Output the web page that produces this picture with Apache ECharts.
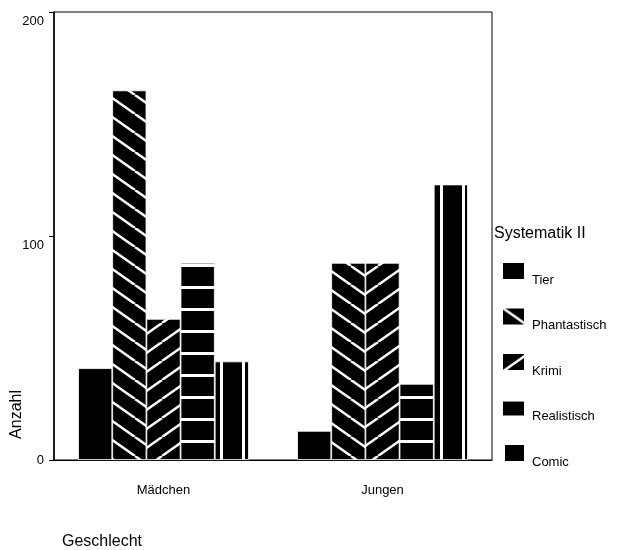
<!DOCTYPE html>
<html>
<head>
<meta charset="utf-8">
<script src="https://cdn.jsdelivr.net/npm/echarts@6/dist/echarts.min.js"></script>
<style>
  html, body { margin: 0; padding: 0; background: #fff; }
  #chart { width: 625px; height: 550px; }
</style>
</head>
<body>
<div id="chart"></div>
<script>
const categories = ["Mädchen", "Jungen"];
const seriesNames = ["Tier", "Phantastisch", "Krimi", "Realistisch", "Comic"];
const tier = [41, 13];
const phantastisch = [165, 88];
const krimi = [63, 88];
const realistisch = [88, 34];
const comic = [44, 123];
const yTicks = [0, 100, 200];

// kleine Musterkacheln wie im SPSS-Diagramm
const makeTile = (w, h, draw) => {
  const c = document.createElement("canvas");
  c.width = w;
  c.height = h;
  const ctx = c.getContext("2d");
  ctx.fillStyle = "#000";
  ctx.fillRect(0, 0, w, h);
  ctx.strokeStyle = "#fff";
  ctx.lineWidth = 2.5;
  draw(ctx, w, h);
  return { image: c, repeat: "repeat" };
};

const diag = (down) => (ctx, w, h) => {
  for (const k of [-1, 0, 1]) {
    ctx.beginPath();
    if (down) {
      ctx.moveTo(k * w, 0);
      ctx.lineTo(k * w + w, h);
    } else {
      ctx.moveTo(k * w, h);
      ctx.lineTo(k * w + w, 0);
    }
    ctx.stroke();
  }
};

const patterns = [
  "#000",
  makeTile(27, 19, diag(true)),
  makeTile(27, 19, diag(false)),
  makeTile(10, 22, (ctx, w) => {
    ctx.lineWidth = 3;
    ctx.beginPath();
    ctx.moveTo(0, 1.5);
    ctx.lineTo(w, 1.5);
    ctx.stroke();
  }),
  makeTile(22, 10, (ctx, w, h) => {
    ctx.lineWidth = 3;
    ctx.beginPath();
    ctx.moveTo(1.5, 0);
    ctx.lineTo(1.5, h);
    ctx.stroke();
  }),
];

const values = [tier, phantastisch, krimi, realistisch, comic];
const font = "Liberation Sans";

const chart = echarts.init(document.getElementById("chart"));

chart.setOption({
  animation: false,
  textStyle: { fontFamily: font },
  title: {
    text: "Systematik II",
    left: 494,
    top: 226,
    textStyle: { fontFamily: font, fontSize: 16, fontWeight: "normal", color: "#000" },
    padding: 0,
  },
  legend: {
    orient: "vertical",
    left: 501,
    top: 261,
    padding: 0,
    icon: "rect",
    itemWidth: 23,
    itemHeight: 18,
    itemGap: 20,
    data: seriesNames,
    formatter: (name) => "{t|" + name + "}",
    textStyle: {
      fontFamily: font, fontSize: 13, color: "#000",
      rich: { t: { fontFamily: font, fontSize: 13, color: "#000", padding: [18, 0, 0, 2] } },
    },
  },
  grid: {
    left: 54,
    right: 133,
    top: 12,
    bottom: 88,
    show: true,
    borderColor: "#000",
    borderWidth: 1,
  },
  xAxis: {
    type: "category",
    data: categories,
    axisLine: { lineStyle: { color: "#000", width: 1 } },
    axisTick: { alignWithLabel: true, length: 4, lineStyle: { color: "#000" } },
    axisLabel: { color: "#000", fontSize: 13, margin: 24 },
    name: "Geschlecht",
    nameLocation: "start",
    nameGap: 0,
    nameTextStyle: { fontSize: 16, color: "#000", align: "left", verticalAlign: "top", padding: [74, 0, 0, 8] },
  },
  yAxis: {
    type: "value",
    min: 0,
    max: 200,
    interval: 100,
    splitLine: { show: false },
    axisLine: { show: true, lineStyle: { color: "#000", width: 1.5 } },
    axisTick: { show: true, length: 5, lineStyle: { color: "#000" } },
    axisLabel: {
      color: "#000", fontSize: 13, margin: 10,
      formatter: (v) => (v === 0 ? "0" : yTicks.includes(v) ? "{d|" + v + "}" : ""),
      rich: { d: { fontFamily: font, fontSize: 13, color: "#000", padding: [18, 0, 0, 0] } },
    },
  },
  graphic: [
    {
      type: "text",
      left: 9,
      top: 390,
      rotation: Math.PI / 2,
      style: { text: "Anzahl", font: "16px " + font, fill: "#000" },
    },
  ],
  series: seriesNames.map((name, i) => ({
    name,
    type: "bar",
    data: values[i],
    barGap: "0%",
    barCategoryGap: "22%",
    itemStyle: { color: patterns[i], borderColor: "#fff", borderWidth: 0.8 },
  })),
});
</script>
</body>
</html>
